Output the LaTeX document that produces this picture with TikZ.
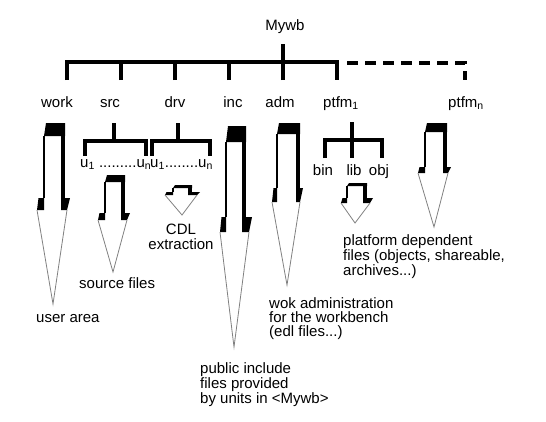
\documentclass[tikz,border=0pt]{standalone}
\usepackage{fontspec}
\setmainfont{Liberation Sans}
\usetikzlibrary{positioning,calc}

% fat 3D arrow: left, right, top, top band, shoulder, shoulder height, head left, head right, tip
\newcommand{\fatarrow}[9]{%
  \fill[black] ({#1+2},#3) -- (#2,#3) -- (#2,{#3+#4}) -- (#1,{#3+#4}) -- cycle;
  \fill[black] ({#2-4},#3) rectangle (#2,#5);
  \draw[line width=1.2pt] (#1,{#3+#4}) -- (#1,#5);
  \fill[black] (#1,#5) -- ({#7+1.5},#5) -- (#7,{#5+#6}) -- (#1,{#5+#6}) -- cycle;
  \fill[black] ({#2-4},#5) -- (#8,#5) -- ({#8-3},{#5+#6}) -- ({#2-4},{#5+#6}) -- cycle;
  \draw[headline] (#7,{#5+#6}) -- (#9) -- ({#8-3},{#5+#6});
}

\begin{document}
\begin{tikzpicture}[
    x=1pt, y=-1pt,
    lbl/.style={inner sep=0pt, anchor=base, font=\fontsize{15}{15}\selectfont},
    note/.style={inner sep=0pt, anchor=base west, align=left, font=\fontsize{15}{15}\selectfont},
    tree/.style={line width=4.5pt},
    headline/.style={draw=gray, line width=0.8pt},
]
\useasboundingbox (0,0) rectangle (546,421);

% Directory names
\node[lbl] (mywb) at (285,30) {Mywb};
\node[lbl] (work) at (57,107) {work};
\node[lbl] (src) at (110,107) {src};
\node[lbl] (drv) at (175,107) {drv};
\node[lbl] (inc) at (233,107) {inc};
\node[lbl] (adm) at (280,107) {adm};
\node[lbl] (ptfma) at (341,107) {ptfm\textsubscript{1}};
\node[lbl] (ptfmn) at (466,107) {ptfm\textsubscript{n}};

% Main tree
\coordinate (root) at (283,44);
\coordinate (fork) at (283,62);
\coordinate (dwork) at (67,80);
\coordinate (dsrc) at (121,80);
\coordinate (ddrv) at (175,80);
\coordinate (dinc) at (229,80);
\coordinate (dadm) at (283,80);
\coordinate (dptfma) at (337,80);
\coordinate (dptfmn) at (465,80);
\coordinate (dashstart) at (347,63);
\draw[tree] (root) -- (fork);
\draw[tree] (dwork) |- (fork) -| (dptfma);
\foreach \d in {dsrc,ddrv,dinc,dadm}
  \draw[tree] (\d) -- (\d |- fork);
\draw[tree, line width=4.2pt, dash pattern=on 11pt off 7pt] (dashstart) -| (dptfmn);

% Units of src and drv
\node[lbl, anchor=base west] (srcunits) at (80,167) {u\textsubscript{1} .........u\textsubscript{n}};
\node[lbl, anchor=base west] (drvunits) at (150,167) {u\textsubscript{1}........u\textsubscript{n}};
\coordinate (srcroot) at (114,123);
\coordinate (srcfork) at (114,141);
\coordinate (srca) at (85,156);
\coordinate (srcb) at (146,156);
\draw[tree] (srcroot) -- (srcfork);
\draw[tree] (srca) |- (srcfork) -| (srcb);
\coordinate (drvroot) at (178,123);
\coordinate (drvfork) at (178,141);
\coordinate (drva) at (152,156);
\coordinate (drvb) at (210,156);
\draw[tree] (drvroot) -- (drvfork);
\draw[tree] (drva) |- (drvfork) -| (drvb);

% Platform subtree
\node[lbl] (bin) at (323,175) {bin};
\node[lbl] (lib) at (354,175) {lib};
\node[lbl] (obj) at (379,175) {obj};
\coordinate (ptfroot) at (352,122);
\coordinate (ptffork) at (352,140);
\coordinate (ptfa) at (325,158);
\coordinate (ptfb) at (352,158);
\coordinate (ptfc) at (382,158);
\draw[tree] (ptfroot) -- (ptfb);
\draw[tree] (ptfa) |- (ptffork) -| (ptfc);

% Descriptions (multi-line nodes are anchored at their last line)
\node[note] (userarea) at (36,322) {user area};
\node[note] (srcfiles) at (79,288) {source files};
\node[note, align=center, anchor=base, font=\fontsize{15}{15}\selectfont] (cdl) at (181,249) {CDL\\extraction};
\node[note] (incfiles) at (200,403) {public include\\files provided\\by units in <Mywb>};
\node[note, font=\fontsize{15}{14}\selectfont] (admfiles) at (269,336) {wok administration\\for the workbench\\(edl files...)};
\node[note] (ptfmfiles) at (343,275) {platform dependent\\files (objects, shareable,\\archives...)};

% Arrows
\fatarrow{44}{65}{123}{13}{198}{12}{37}{70}{53,304}
\fatarrow{105}{125}{175}{7}{213}{7}{98}{130}{113,272}
\fatarrow{173}{192}{185}{3}{192}{3}{165}{200}{182,215}
\fatarrow{226}{246}{126}{16}{217}{15}{220}{252}{234,347}
\fatarrow{277}{300}{123}{11}{188}{14}{272}{303}{287,285}
\fatarrow{347}{367}{183}{3}{198}{5}{341}{373}{355,223}
\fatarrow{425}{447}{123}{9}{167}{6}{418}{451}{434,227}

\end{tikzpicture}
\end{document}
